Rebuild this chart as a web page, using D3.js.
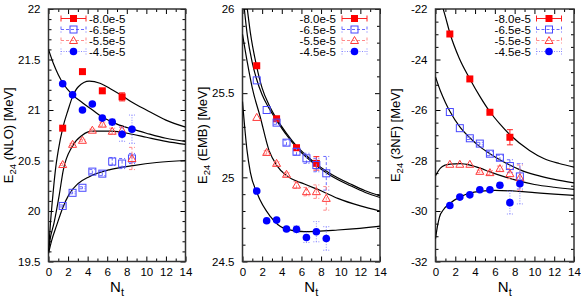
<!DOCTYPE html>
<html>
<head>
<meta charset="utf-8">
<script src="https://cdn.jsdelivr.net/npm/d3@7"></script>
<style>
  body { margin: 0; background: #fff; }
  text { font-family: "Liberation Sans", Arial, sans-serif; fill: #000; }
</style>
</head>
<body>
<div id="chart"></div>
<script>
// Nt values of the lattice points (red series only uses every other one)
var nt = [1.45, 2.46, 3.47, 4.48, 5.5, 6.51, 7.52, 8.53];
var ntRed = [1.45, 3.47, 5.5, 7.52];
var seriesNames = ["-8.0e-5", "-6.5e-5", "-5.5e-5", "-4.5e-5"];

// Panel 1: E24 (NLO)
var nloRed = [20.82, 21.38, 21.19, 21.13];
var nloRedErr = [0.01, 0.01, 0.01, 0.04];
var nloSq = [20.05, 20.18, 20.23, 20.39, 20.37, 20.49, 20.47, 20.52];
var nloSqErr = [0.01, 0.01, 0.01, 0.02, 0.02, 0.04, 0.05, 0.05];
var nloTri = [20.46, 20.66, 20.70, 20.80, 20.86, 20.79, 20.80, 20.52];
var nloTriErr = [0.01, 0.01, 0.01, 0.01, 0.02, 0.03, 0.03, 0.11];
var nloCirc = [21.26, 21.15, 21.0, 21.06, 20.92, 20.88, 20.76, 20.81];
var nloCircErr = [0.005, 0.005, 0.005, 0.005, 0.02, 0.03, 0.07, 0.14];
var nloFitRed = [[0,19.6],[0.2,19.88],[0.45,20.16],[0.7,20.4],[1.0,20.6],[1.48,20.83],[2,21.0],[2.45,21.13],[3.05,21.23],[4.17,21.285],[5.26,21.265],[6.5,21.2],[7.54,21.14],[8.5,21.08],[10,21.0],[12,20.9],[14,20.83]];
var nloFitSq = [[0,19.58],[0.3,19.7],[0.84,19.86],[1.45,20.03],[2.13,20.17],[3,20.27],[4.17,20.34],[6.28,20.41],[8.66,20.45],[11.05,20.48],[14,20.5]];
var nloFitTri = [[0,19.6],[0.15,19.71],[0.56,19.88],[1.1,20.16],[1.5,20.4],[2.43,20.64],[3.45,20.75],[4.47,20.79],[6.35,20.79],[8.56,20.76],[10,20.73],[12,20.69],[14,20.66]];
var nloFitCirc = [[0,21.6],[0.5,21.46],[1,21.35],[1.45,21.27],[2.45,21.15],[3.5,21.07],[4.5,21.0],[5.5,20.93],[7,20.86],[8.56,20.81],[10,20.77],[12,20.72],[14,20.69]];

// Panel 2: E24 (EMB)
var embRed = [25.663, 25.348, 25.176, 25.083];
var embRedErr = [0.005, 0.005, 0.01, 0.04];
var embSq = [25.576, 25.40, 25.325, 25.206, 25.152, 25.113, 25.073, 25.024];
var embSqErr = [0.005, 0.005, 0.01, 0.015, 0.02, 0.03, 0.04, 0.1];
var embTri = [25.356, 25.148, 25.083, 25.018, 24.954, 24.915, 24.915, 24.875];
var embTriErr = [0.005, 0.01, 0.01, 0.01, 0.02, 0.025, 0.04, 0.07];
var embCirc = [24.919, 24.742, 24.746, 24.693, 24.691, 24.643, 24.677, 24.637];
var embCircErr = [0.005, 0.005, 0.005, 0.01, 0.02, 0.03, 0.06, 0.07];
var embFitRed = [[0.45,26.02],[0.8,25.86],[1.4,25.67],[2,25.53],[2.7,25.43],[3.45,25.35],[4.5,25.26],[5.45,25.19],[6.5,25.13],[7.5,25.08],[9,25.02],[11,24.96],[12.5,24.92],[14,24.89]];
var embFitSq = [[0.15,26.02],[0.5,25.84],[1,25.68],[1.4,25.59],[2,25.49],[2.7,25.41],[3.45,25.34],[4.5,25.25],[5.45,25.18],[6.5,25.12],[7.5,25.07],[9,25.01],[11,24.95],[12.5,24.91],[14,24.88]];
var embFitTri = [[0,25.85],[0.5,25.68],[1,25.53],[1.8,25.36],[2.7,25.16],[3.5,25.07],[4.5,25.01],[6.3,24.96],[8,24.92],[9.7,24.875],[12,24.83],[14,24.80]];
var embFitCirc = [[0,25.45],[0.46,25.16],[0.8,25.03],[1.49,24.905],[2.85,24.766],[4.22,24.697],[6.27,24.677],[9.7,24.687],[13.6,24.707],[14,24.71]];

// Panel 3: E24 (3NF)
var nfRed = [-22.99, -24.77, -26.09, -27.08];
var nfRedErr = [0.02, 0.02, 0.05, 0.3];
var nfSq = [-26.08, -26.72, -27.12, -27.33, -27.73, -27.89, -28.22, -28.63];
var nfSqErr = [0.02, 0.03, 0.05, 0.05, 0.08, 0.1, 0.25, 0.5];
var nfTri = [-28.15, -28.15, -28.15, -28.43, -28.48, -28.32, -28.52, -28.68];
var nfTriErr = [0.02, 0.02, 0.03, 0.05, 0.08, 0.1, 0.2, 0.5];
var nfCirc = [-29.78, -29.45, -29.36, -29.16, -29.16, -28.98, -29.67, -28.92];
var nfCircErr = [0.02, 0.02, 0.03, 0.04, 0.05, 0.1, 0.45, 0.8];
var nfFitRed = [[0.78,-22.0],[1.0,-22.3],[1.45,-22.95],[2.4,-23.95],[3.45,-24.75],[4.5,-25.47],[5.5,-26.07],[6.5,-26.55],[7.5,-26.97],[9.5,-27.6],[11,-27.93],[12.5,-28.12],[14,-28.26]];
var nfFitSq = [[0,-24.69],[0.5,-25.25],[1,-25.7],[1.45,-26.05],[2.46,-26.67],[3.47,-27.1],[4.48,-27.45],[5.5,-27.73],[6.5,-27.97],[7.5,-28.18],[8.5,-28.36],[10,-28.56],[12,-28.75],[14,-28.89]];
var nfFitTri = [[0,-28.6],[0.5,-28.3],[1,-28.18],[1.5,-28.14],[2.5,-28.12],[3.5,-28.18],[4.5,-28.3],[5.5,-28.45],[7,-28.65],[8.5,-28.82],[10,-28.95],[12,-29.06],[14,-29.14]];
var nfFitCirc = [[0,-31.1],[0.2,-30.6],[0.4,-30.24],[0.8,-29.95],[1.42,-29.71],[2.43,-29.45],[3.9,-29.25],[6,-29.18],[8.36,-29.22],[10,-29.27],[12,-29.33],[14,-29.38]];

var svgWidth = 581;
var svgHeight = 307;

var svg = d3.select("#chart")
  .append("svg")
  .attr("width", svgWidth)
  .attr("height", svgHeight);

// style of each series: marker + error bar line
var styles = [
  { marker: "fsq", color: "#ff0000", errColor: "#ff2020", dash: null },
  { marker: "osq", color: "#4848ff", errColor: "#6a6aff", dash: "3,2" },
  { marker: "tri", color: "#ff3a3a", errColor: "#ff8a8a", dash: "3,2" },
  { marker: "circ", color: "#0000ff", errColor: "#8a8aff", dash: "1,1.5" }
];

function drawMarker(g, type, cx, cy) {
  if (type === "fsq") {
    g.append("rect").attr("x", cx - 3.5).attr("y", cy - 3.5)
      .attr("width", 7).attr("height", 7).attr("fill", "#ff0000");
  } else if (type === "osq") {
    g.append("rect").attr("x", cx - 3.5).attr("y", cy - 3.5)
      .attr("width", 7).attr("height", 7).attr("fill", "none")
      .attr("stroke", "#4848ff").attr("stroke-width", 1);
  } else if (type === "tri") {
    g.append("path")
      .attr("d", `M${cx - 4},${cy + 3} L${cx + 4},${cy + 3} L${cx},${cy - 4} Z`)
      .attr("fill", "none").attr("stroke", "#ff3a3a").attr("stroke-width", 1);
  } else {
    g.append("circle").attr("cx", cx).attr("cy", cy).attr("r", 3.8)
      .attr("fill", "#0000ff");
  }
}

function drawPanel(p) {
  var x = d3.scaleLinear().domain([0, 14]).range([p.left, p.right]);
  var y = d3.scaleLinear().domain(p.yDomain).range([p.bottom, p.top]);
  var g = svg.append("g");
  var w = p.right - p.left, h = p.bottom - p.top;

  var clipId = "clip" + p.id;
  svg.append("clipPath").attr("id", clipId)
    .append("rect").attr("x", p.left).attr("y", p.top).attr("width", w).attr("height", h);

  var xMinor = d3.range(1, 14, 2);
  var yMinor = d3.range(p.yDomain[0], p.yDomain[1] + 1e-9, p.yMinor)
    .filter(v => Math.abs(v / p.yMajor - Math.round(v / p.yMajor)) > 1e-6);

  // axes: major ticks inward on all four sides, minor ticks too
  g.append("g").attr("transform", `translate(0,${p.bottom})`)
    .call(d3.axisBottom(x).tickValues(d3.range(0, 15, 2)).tickSize(-5).tickPadding(6).tickFormat(d => d));
  g.append("g").attr("transform", `translate(0,${p.bottom})`)
    .call(d3.axisBottom(x).tickValues(xMinor).tickSize(-3).tickFormat(""));
  g.append("g").attr("transform", `translate(0,${p.top})`)
    .call(d3.axisTop(x).tickValues(d3.range(0, 15, 2)).tickSize(-5).tickFormat(""));
  g.append("g").attr("transform", `translate(0,${p.top})`)
    .call(d3.axisTop(x).tickValues(xMinor).tickSize(-3).tickFormat(""));
  g.append("g").attr("transform", `translate(${p.left},0)`)
    .call(d3.axisLeft(y).tickValues(p.yTicks).tickSize(-5).tickPadding(8).tickFormat(d => d));
  g.append("g").attr("transform", `translate(${p.left},0)`)
    .call(d3.axisLeft(y).tickValues(yMinor).tickSize(-3).tickFormat(""));
  g.append("g").attr("transform", `translate(${p.right},0)`)
    .call(d3.axisRight(y).tickValues(p.yTicks).tickSize(-5).tickFormat(""));
  g.append("g").attr("transform", `translate(${p.right},0)`)
    .call(d3.axisRight(y).tickValues(yMinor).tickSize(-3).tickFormat(""));

  g.selectAll(".domain").remove();
  g.selectAll(".tick line").attr("stroke", "#000").attr("stroke-width", 1);
  g.selectAll(".tick text").style("font-size", "11.5px")
    .style("font-family", "Liberation Sans, Arial, sans-serif");

  g.append("rect").attr("x", p.left).attr("y", p.top).attr("width", w).attr("height", h)
    .attr("fill", "none").attr("stroke", "#333").attr("stroke-width", 1.5);

  // fit curves
  var line = d3.line().x(d => x(d[0])).y(d => y(d[1])).curve(d3.curveMonotoneX);
  var cg = g.append("g").attr("clip-path", `url(#${clipId})`);
  p.fits.forEach(function(f) {
    cg.append("path").attr("d", line(f)).attr("fill", "none")
      .attr("stroke", "#000").attr("stroke-width", 1.2);
  });

  // error bars + markers
  p.series.forEach(function(s, i) {
    var st = styles[i];
    var sg = cg.append("g");
    s.vals.forEach(function(v, j) {
      var cx = x(s.xs[j]);
      var e = s.err[j];
      var y0 = y(v - e), y1 = y(v + e);
      if (Math.abs(y0 - y1) > 2) {
        var eg = sg.append("g").attr("stroke", st.errColor).attr("stroke-width", 1)
          .attr("stroke-dasharray", st.dash);
        eg.append("line").attr("x1", cx).attr("x2", cx).attr("y1", y0).attr("y2", y1);
        eg.append("line").attr("x1", cx - 3).attr("x2", cx + 3).attr("y1", y0).attr("y2", y0);
        eg.append("line").attr("x1", cx - 3).attr("x2", cx + 3).attr("y1", y1).attr("y2", y1);
      }
    });
    s.vals.forEach(function(v, j) {
      drawMarker(sg, st.marker, x(s.xs[j]), y(v));
    });
  });

  // legend
  var rows = [18.5, 29.5, 40.5, 51.5];
  seriesNames.forEach(function(name, i) {
    var st = styles[i];
    var lg = g.append("g");
    var x1 = p.legend.lineX, x2 = p.legend.lineX + 25, mx = (x1 + x2) / 2;
    var ry = rows[i];
    var eg = lg.append("g").attr("stroke", st.errColor).attr("stroke-width", 1)
      .attr("stroke-dasharray", st.dash);
    eg.append("line").attr("x1", x1).attr("x2", x2).attr("y1", ry).attr("y2", ry);
    eg.append("line").attr("x1", x1).attr("x2", x1).attr("y1", ry - 3).attr("y2", ry + 3);
    eg.append("line").attr("x1", x2).attr("x2", x2).attr("y1", ry - 3).attr("y2", ry + 3);
    drawMarker(lg, st.marker, mx, ry);
    lg.append("text")
      .attr("x", p.legend.textX).attr("y", ry + 4)
      .attr("text-anchor", p.legend.anchor)
      .style("font-size", "11.5px")
      .text(name);
  });

  // axis titles
  var yl = g.append("text")
    .attr("transform", `translate(${p.left - 36},${(p.top + p.bottom) / 2}) rotate(-90)`)
    .attr("text-anchor", "middle")
    .style("font-size", "13px");
  yl.append("tspan").text("E");
  yl.append("tspan").attr("dy", 3).style("font-size", "9.5px").text("24");
  yl.append("tspan").attr("dy", -3).text(" (" + p.label + ") [MeV]");

  var xl = g.append("text")
    .attr("x", (p.left + p.right) / 2).attr("y", 292)
    .attr("text-anchor", "middle")
    .style("font-size", "15px");
  xl.append("tspan").text("N");
  xl.append("tspan").attr("dy", 4).style("font-size", "11px").text("t");
}

drawPanel({
  id: 1, left: 48.5, right: 185.5, top: 9, bottom: 261.5,
  yDomain: [19.5, 22], yTicks: [19.5, 20, 20.5, 21, 21.5, 22], yMajor: 0.5, yMinor: 0.1,
  label: "NLO",
  legend: { lineX: 61, textX: 89, anchor: "start" },
  fits: [nloFitRed, nloFitSq, nloFitTri, nloFitCirc],
  series: [
    { xs: ntRed, vals: nloRed, err: nloRedErr },
    { xs: nt, vals: nloSq, err: nloSqErr },
    { xs: nt, vals: nloTri, err: nloTriErr },
    { xs: nt, vals: nloCirc, err: nloCircErr }
  ]
});

drawPanel({
  id: 2, left: 242.5, right: 380, top: 9, bottom: 261.5,
  yDomain: [24.5, 26], yTicks: [24.5, 25, 25.5, 26], yMajor: 0.5, yMinor: 0.1,
  label: "EMB",
  legend: { lineX: 342, textX: 336, anchor: "end" },
  fits: [embFitRed, embFitSq, embFitTri, embFitCirc],
  series: [
    { xs: ntRed, vals: embRed, err: embRedErr },
    { xs: nt, vals: embSq, err: embSqErr },
    { xs: nt, vals: embTri, err: embTriErr },
    { xs: nt, vals: embCirc, err: embCircErr }
  ]
});

drawPanel({
  id: 3, left: 435.5, right: 574, top: 9, bottom: 261.5,
  yDomain: [-32, -22], yTicks: [-32, -30, -28, -26, -24, -22], yMajor: 2, yMinor: 0.5,
  label: "3NF",
  legend: { lineX: 536.5, textX: 531, anchor: "end" },
  fits: [nfFitRed, nfFitSq, nfFitTri, nfFitCirc],
  series: [
    { xs: ntRed, vals: nfRed, err: nfRedErr },
    { xs: nt, vals: nfSq, err: nfSqErr },
    { xs: nt, vals: nfTri, err: nfTriErr },
    { xs: nt, vals: nfCirc, err: nfCircErr }
  ]
});
</script>
</body>
</html>
